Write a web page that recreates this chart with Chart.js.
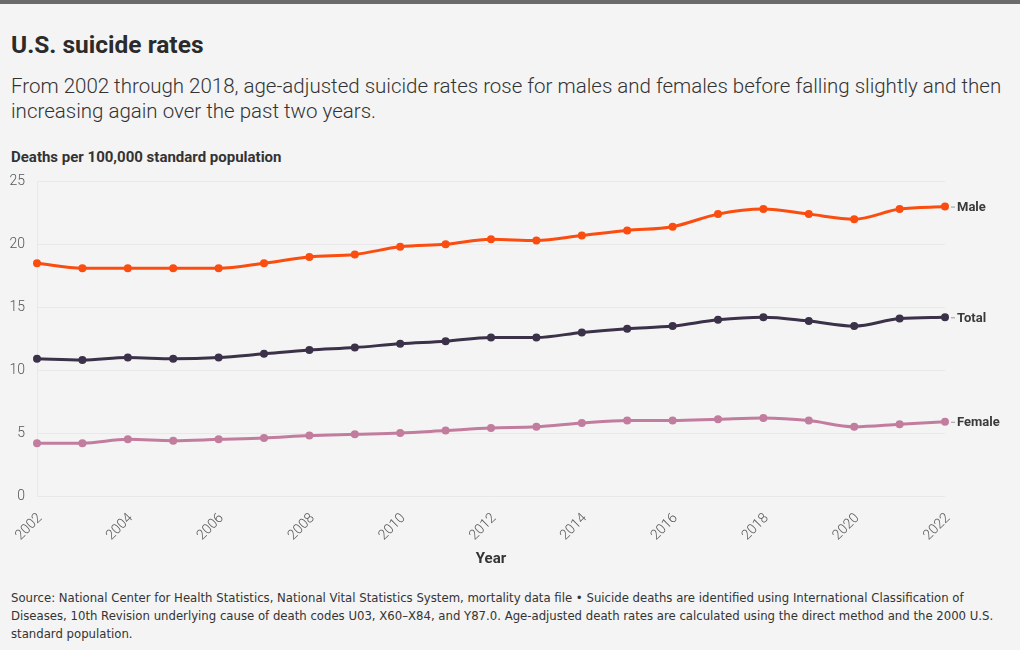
<!DOCTYPE html>
<html>
<head>
<meta charset="utf-8">
<script src="https://cdn.jsdelivr.net/npm/chart.js@4/dist/chart.umd.min.js"></script>
<style>
  html, body { margin: 0; padding: 0; }
  body { width: 1020px; height: 650px; background: #f4f4f4; position: relative; overflow: hidden; font-family: Roboto, "Noto Sans", sans-serif; }
  #topbar { position: absolute; left: 0; top: 0; width: 1020px; height: 4px; background: #6b6b6b; }
  #title { position: absolute; left: 11px; top: 30px; font-size: 24.5px; font-weight: 700; color: #2b2b2b; line-height: 30px; white-space: nowrap; }
  #subtitle { position: absolute; left: 11px; top: 74px; font-size: 20.5px; font-weight: 300; color: #333; line-height: 25px; white-space: nowrap; }
  #ytitle { position: absolute; left: 11px; top: 148px; font-size: 15px; font-weight: 700; color: #333; line-height: 18px; white-space: nowrap; }
  #wrap { position: absolute; left: 0; top: 161px; width: 1020px; height: 419px; }
  #footer { position: absolute; left: 11px; top: 589px; font-size: 13px; color: #333; line-height: 18px; white-space: nowrap; font-family: "Liberation Sans Narrow", "DejaVu Sans Condensed", Roboto, sans-serif; }
</style>
</head>
<body>
<div id="topbar"></div>
<div id="title">U.S. suicide rates</div>
<div id="subtitle">From 2002 through 2018, age-adjusted suicide rates rose for males and females before falling slightly and then<br>increasing again over the past two years.</div>
<div id="ytitle">Deaths per 100,000 standard population</div>
<div id="wrap"><canvas id="c" width="1020" height="419"></canvas></div>
<div id="footer">Source: National Center for Health Statistics, National Vital Statistics System, mortality data file • Suicide deaths are identified using International Classification of<br>Diseases, 10th Revision underlying cause of death codes U03, X60–X84, and Y87.0. Age-adjusted death rates are calculated using the direct method and the 2000 U.S.<br>standard population.</div>
<script>
const years = ["2002","2003","2004","2005","2006","2007","2008","2009","2010","2011","2012","2013","2014","2015","2016","2017","2018","2019","2020","2021","2022"];
const male   = [18.5,18.1,18.1,18.1,18.1,18.5,19.0,19.2,19.8,20.0,20.4,20.3,20.7,21.1,21.4,22.4,22.8,22.4,22.0,22.8,23.0];
const total  = [10.9,10.8,11.0,10.9,11.0,11.3,11.6,11.8,12.1,12.3,12.6,12.6,13.0,13.3,13.5,14.0,14.2,13.9,13.5,14.1,14.2];
const female = [4.2,4.2,4.5,4.4,4.5,4.6,4.8,4.9,5.0,5.2,5.4,5.5,5.8,6.0,6.0,6.1,6.2,6.0,5.5,5.7,5.9];
const seriesNames = ["Male","Total","Female"];
const yTicks = [0,5,10,15,20,25];

const colors = ["#fa4d0f", "#3b3149", "#c27c9e"];

const endLabels = {
  id: 'endLabels',
  afterDatasetsDraw(chart) {
    const ctx = chart.ctx;
    ctx.save();
    chart.data.datasets.forEach((ds, i) => {
      const meta = chart.getDatasetMeta(i);
      const pt = meta.data[meta.data.length - 1];
      ctx.strokeStyle = '#999';
      ctx.lineWidth = 1;
      ctx.beginPath();
      ctx.moveTo(pt.x + 6, pt.y + 0.5);
      ctx.lineTo(pt.x + 10, pt.y + 0.5);
      ctx.stroke();
      ctx.fillStyle = '#3a3a3a';
      ctx.font = '700 13px Roboto, sans-serif';
      ctx.textBaseline = 'middle';
      ctx.textAlign = 'left';
      ctx.fillText(ds.label, pt.x + 12, pt.y + 1);
    });
    ctx.restore();
  }
};

new Chart(document.getElementById('c'), {
  type: 'line',
  data: {
    labels: years,
    datasets: [male, total, female].map((d, i) => ({
      label: seriesNames[i],
      data: d,
      borderColor: colors[i],
      backgroundColor: colors[i],
      borderWidth: 3,
      pointRadius: 4,
      pointHoverRadius: 4,
      pointBorderWidth: 0,
      tension: 0.3,
      cubicInterpolationMode: 'monotone'
    }))
  },
  options: {
    responsive: false,
    animation: false,
    layout: { padding: { left: 0, right: 75, top: 3, bottom: 10 } },
    plugins: { legend: { display: false }, tooltip: { enabled: false } },
    scales: {
      x: {
        grid: { display: false },
        border: { display: false },
        ticks: { color: '#555', font: { family: 'Roboto', size: 14, weight: 300 }, maxRotation: 45, minRotation: 45, padding: 6, labelOffset: 3,
          callback: function(v, i) { return i % 2 === 0 ? this.getLabelForValue(v) : ''; }, autoSkip: false },
        title: { display: true, text: 'Year', color: '#333', font: { family: 'Roboto', size: 15, weight: 700 }, padding: { top: 4, bottom: 2 } },
        afterFit(s) { s.height = 74; }
      },
      y: {
        min: 0, max: 25,
        afterBuildTicks(s) { s.ticks = yTicks.map(v => ({ value: v })); },
        grid: { color: '#e8e8e8', drawTicks: false, lineWidth: 1 },
        border: { display: true, color: '#e8e8e8' },
        ticks: { color: '#555', font: { family: 'Roboto', size: 14, weight: 300 }, padding: 12 },
        afterFit(s) { s.width = 37; }
      }
    }
  },
  plugins: [endLabels]
});
</script>
</body>
</html>
